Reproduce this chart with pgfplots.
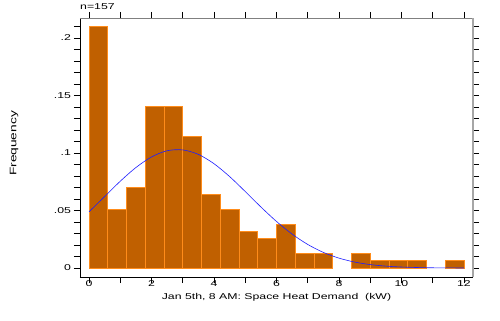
\documentclass[border=0pt]{standalone}
\usepackage{pgfplots}
\pgfplotsset{compat=1.18}
\usepackage{fontspec}
\setmainfont{Liberation Sans}[FakeStretch=1.45]
\definecolor{barfill}{RGB}{192,96,0}
\definecolor{baredge}{RGB}{255,140,26}
\definecolor{fitblue}{RGB}{30,30,255}
\begin{document}
\fontsize{8.5}{10}\selectfont
\begin{tikzpicture}
\useasboundingbox (-80bp,-44bp) rectangle (420bp,277bp);
\begin{axis}[
  at={(0,0)}, anchor=south west,
  width=393bp, height=259bp, scale only axis,
  xmin=-0.29, xmax=12.29, ymin=-0.0078, ymax=0.2174,
  axis line style={draw=none},
  tick align=outside, major tick length=6bp,
  tick style={black, line width=0.6bp},
  xtick={0,1,2,3,4,5,6,7,8,9,10,11,12},
  xticklabels={0,,2,,4,,6,,8,,10,,12},
  ytick={0,0.01,0.02,0.03,0.04,0.05,0.06,0.07,0.08,0.09,0.1,0.11,0.12,0.13,0.14,0.15,0.16,0.17,0.18,0.19,0.2,0.21},
  yticklabels={0,,,,,.05,,,,,.1,,,,,.15,,,,,.2,},
  xticklabel pos=lower, yticklabel pos=left,
  xticklabel style={anchor=base, yshift=-3bp},
  yticklabel style={anchor=east, xshift=0bp},
  xlabel={Jan 5th, 8 AM: Space Heat Demand\ \ (kW)},
  xlabel style={at={(axis description cs:0.5,0)}, anchor=base, yshift=-22.5bp},
  ylabel={Frequency},
  ylabel style={at={(axis description cs:0,0.5)}, anchor=center, yshift=66bp, xshift=4bp, font=\fontsize{9.5}{11}\selectfont},
  clip=false,
]
\addplot[ybar, bar width=0.6, bar shift=0pt, fill=barfill, draw=baredge, line width=0.8bp]
coordinates {
(0.3,0.21019) (0.9,0.05096) (1.5,0.07006) (2.1,0.14013) (2.7,0.14013)
(3.3,0.11465) (3.9,0.06369) (4.5,0.05096) (5.1,0.03185) (5.7,0.02548)
(6.3,0.03822) (6.9,0.01274) (7.5,0.01274) (8.7,0.01274) (9.3,0.00637)
(9.9,0.00637) (10.5,0.00637) (11.7,0.00637)
};
\addplot[fitblue, line width=0.6bp, smooth, mark=none]
coordinates {
(0,0.0489) (0.5,0.0622) (1,0.0755) (1.5,0.0874) (2,0.0966) (2.5,0.1020)
(3,0.1027) (3.5,0.0988) (4,0.0907) (4.5,0.0795) (5,0.0665) (5.5,0.0531)
(6,0.0405) (6.5,0.0295) (7,0.0205) (7.5,0.0136) (8,0.0086) (8.5,0.0052)
(9,0.0030) (9.5,0.00165) (10,0.00087) (10.5,0.00044) (11,0.00021)
(11.5,0.0001) (12,0.00004)
};
\draw[black, line width=0.8bp] (rel axis cs:0,0) -- (rel axis cs:0,1);
\draw[black, line width=0.8bp] (rel axis cs:0,0) -- (rel axis cs:1,0);
\draw[gray, line width=0.8bp] (rel axis cs:0,1) -- (rel axis cs:1,1);
\draw[black!35, line width=2bp] (rel axis cs:1,0) -- (rel axis cs:1,1);
\node[anchor=base west, inner sep=0pt] at ([yshift=9bp]rel axis cs:0,1) {n=157};
\end{axis}
\end{tikzpicture}
\end{document}
